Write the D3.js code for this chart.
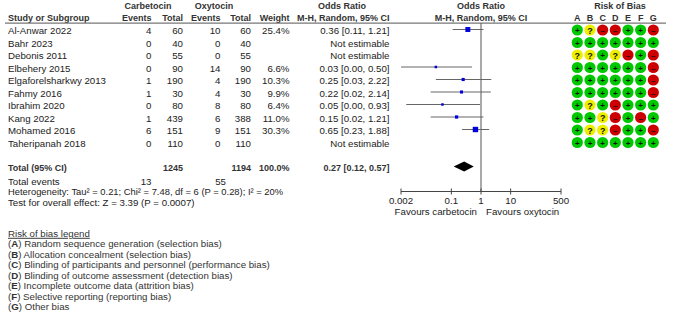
<!DOCTYPE html>
<html lang="en">
<head>
<meta charset="UTF-8">
<title>Forest plot: carbetocin vs oxytocin</title>
<script src="https://cdn.jsdelivr.net/npm/d3@7"></script>
<style>
  body { margin: 0; background: #fff; }
  text { font-family: "Liberation Sans", Arial, sans-serif; font-size: 9.7px; fill: #222; }
  .hd { font-weight: bold; fill: #333; font-size: 9px; }
</style>
</head>
<body>
<script>
const studies = ["Al-Anwar 2022", "Bahr 2023", "Debonis 2011", "Elbehery 2015", "Elgaforelsharkwy 2013",
  "Fahmy 2016", "Ibrahim 2020", "Kang 2022", "Mohamed 2016", "Taheripanah 2018"];
const carbEvents = [4, 0, 0, 0, 1, 1, 0, 1, 6, 0];
const carbTotal = [60, 40, 55, 90, 190, 30, 80, 439, 151, 110];
const oxyEvents = [10, 0, 0, 14, 4, 4, 8, 6, 9, 0];
const oxyTotal = [60, 40, 55, 90, 190, 30, 80, 388, 151, 110];
const weights = [25.4, null, null, 6.6, 10.3, 9.9, 6.4, 11.0, 30.3, null];
const orVals = [0.36, null, null, 0.03, 0.25, 0.22, 0.05, 0.15, 0.65, null];
const ciLow = [0.11, null, null, 0.0018, 0.03, 0.02, 0.003, 0.02, 0.23, null];
const ciHigh = [1.21, null, null, 0.50, 2.22, 2.14, 0.93, 1.21, 1.88, null];
const robRows = ["+?--++-", "+++++++", "??+?-+-", "++++++-", "++++++-",
  "++++++-", "+?+-+++", "++?-+-+", "+??-++-", "+++++++"];
const robDomains = ["A", "B", "C", "D", "E", "F", "G"];
const total = {carbTotal: 1245, oxyTotal: 1194, or: 0.27, lo: 0.12, hi: 0.57, carbEvents: 13, oxyEvents: 55};
const tickVals = [0.002, 0.1, 1, 10, 500];
const tickLabels = ["0.002", "0.1", "1", "10", "500"];
const legendItems = [
  ["A", "Random sequence generation (selection bias)"],
  ["B", "Allocation concealment (selection bias)"],
  ["C", "Blinding of participants and personnel (performance bias)"],
  ["D", "Blinding of outcome assessment (detection bias)"],
  ["E", "Incomplete outcome data (attrition bias)"],
  ["F", "Selective reporting (reporting bias)"],
  ["G", "Other bias"]
];

const width = 677, height = 326;
const svg = d3.select("body").append("svg").attr("width", width).attr("height", height);

const y = d3.scaleLinear().domain([0, 9]).range([30.5, 143]);
const x = d3.scaleLog().domain([0.002, 500]).range([401, 561]);
const sq = d3.scaleSqrt().domain([0, 30.3]).range([0, 5.4]);
const robX = d3.scalePoint().domain(robDomains).range([577.3, 653.3]);
const fmt = d3.format(".2f");

// header
const hdr = svg.append("g");
function ht(tx, ty, s, anchor) {
  hdr.append("text").attr("class", "hd").attr("x", tx).attr("y", ty)
    .attr("text-anchor", anchor || "middle").text(s);
}
ht(148, 8.5, "Carbetocin");
ht(214, 8.5, "Oxytocin");
ht(342, 8.5, "Odds Ratio");
ht(481, 8.5, "Odds Ratio");
ht(620, 8.5, "Risk of Bias");
ht(8, 20.5, "Study or Subgroup", "start");
ht(151.5, 20.5, "Events", "end");
ht(183, 20.5, "Total", "end");
ht(220.5, 20.5, "Events", "end");
ht(251, 20.5, "Total", "end");
ht(289.5, 20.5, "Weight", "end");
ht(389.5, 20.5, "M-H, Random, 95% CI", "end");
ht(481, 20.5, "M-H, Random, 95% CI");
robDomains.forEach(d => ht(robX(d), 20.5, d));

svg.append("line").attr("x1", 5).attr("x2", 666).attr("y1", 23.2).attr("y2", 23.2)
  .attr("stroke", "#777").attr("stroke-width", 1.2);

// study rows
const rows = svg.append("g").selectAll("g").data(studies).join("g")
  .attr("transform", (d, i) => `translate(0,${y(i)})`);

function cell(sel, tx, f, anchor) {
  sel.append("text").attr("x", tx).attr("y", 3.5).attr("text-anchor", anchor || "end").text(f);
}
cell(rows, 8, d => d, "start");
cell(rows, 151.5, (d, i) => carbEvents[i]);
cell(rows, 183, (d, i) => carbTotal[i]);
cell(rows, 220.5, (d, i) => oxyEvents[i]);
cell(rows, 251, (d, i) => oxyTotal[i]);
cell(rows, 289.5, (d, i) => weights[i] == null ? "" : weights[i].toFixed(1) + "%");
cell(rows, 389.5, (d, i) => orVals[i] == null ? "Not estimable"
  : `${fmt(orVals[i])} [${fmt(ciLow[i])}, ${fmt(ciHigh[i])}]`);

// null line
svg.append("line").attr("x1", x(1)).attr("x2", x(1)).attr("y1", 23).attr("y2", 192)
  .attr("stroke", "#555").attr("stroke-width", 1);

// CI lines and squares
const est = studies.map((d, i) => i).filter(i => orVals[i] != null);
const clampX = v => x(Math.max(v, 0.002));
svg.append("g").selectAll("line").data(est).join("line")
  .attr("x1", i => clampX(ciLow[i])).attr("x2", i => x(ciHigh[i]))
  .attr("y1", i => y(i) - 1).attr("y2", i => y(i) - 1)
  .attr("stroke", "#666").attr("stroke-width", 1);
svg.append("g").selectAll("rect").data(est).join("rect")
  .attr("x", i => x(orVals[i]) - sq(weights[i]) / 2)
  .attr("y", i => y(i) - 1 - sq(weights[i]) / 2)
  .attr("width", i => sq(weights[i])).attr("height", i => sq(weights[i]))
  .attr("fill", "#0000dd");

// total row
const ty = 167;
svg.append("text").attr("class", "hd").attr("x", 8).attr("y", ty + 3.5).text("Total (95% CI)");
[[183, total.carbTotal], [251, total.oxyTotal], [289.5, "100.0%"],
 [389.5, `${fmt(total.or)} [${fmt(total.lo)}, ${fmt(total.hi)}]`]].forEach(([tx, s]) => {
  svg.append("text").attr("class", "hd").attr("x", tx).attr("y", ty + 3.5)
    .attr("text-anchor", "end").text(s);
});
svg.append("path")
  .attr("d", `M${x(total.lo)},${ty - 0.5}L${x(total.or)},${ty - 5.5}L${x(total.hi)},${ty - 0.5}L${x(total.or)},${ty + 4.5}Z`)
  .attr("fill", "#000");

svg.append("text").attr("x", 8).attr("y", 185).text("Total events");
svg.append("text").attr("x", 151.5).attr("y", 185).attr("text-anchor", "end").text(total.carbEvents);
svg.append("text").attr("x", 226).attr("y", 185).attr("text-anchor", "end").text(total.oxyEvents);
svg.append("text").attr("x", 8).attr("y", 195.3).style("font-size", "9.4px")
  .text("Heterogeneity: Tau² = 0.21; Chi² = 7.48, df = 6 (P = 0.28); I² = 20%");
svg.append("text").attr("x", 8).attr("y", 205.6).text("Test for overall effect: Z = 3.39 (P = 0.0007)");

// axis
const ax = svg.append("g").attr("transform", "translate(0,191.5)");
ax.append("line").attr("x1", x(0.002)).attr("x2", x(500)).attr("stroke", "#444");
ax.selectAll("line.tk").data(tickVals).join("line").attr("class", "tk")
  .attr("x1", d => x(d)).attr("x2", d => x(d)).attr("y1", -3).attr("y2", 3).attr("stroke", "#444");
ax.selectAll("text").data(tickVals).join("text")
  .attr("x", d => x(d)).attr("y", 12).attr("text-anchor", "middle").text((d, i) => tickLabels[i]);
svg.append("text").attr("x", x(1) - 4).attr("y", 214.5).attr("text-anchor", "end").text("Favours carbetocin");
svg.append("text").attr("x", x(1) + 5).attr("y", 214.5).text("Favours oxytocin");

// risk of bias dots
const robColor = {"+": "#00c800", "?": "#eeee00", "-": "#cc0000"};
const robCells = [];
robRows.forEach((r, i) => r.split("").forEach((c, j) => robCells.push({i, d: robDomains[j], c})));
const rc = svg.append("g").selectAll("g").data(robCells).join("g")
  .attr("transform", d => `translate(${robX(d.d)},${y(d.i) - 0.5})`);
rc.append("circle").attr("r", 5.6).attr("fill", d => robColor[d.c]);
rc.append("text").attr("y", d => d.c === "?" ? 3.5 : 3)
  .attr("text-anchor", "middle")
  .style("font-weight", "bold").style("font-size", d => d.c === "?" ? "9px" : "8px")
  .style("fill", "#111")
  .text(d => d.c === "-" ? "–" : d.c);

// legend
const lg = svg.append("g");
lg.append("text").attr("x", 8).attr("y", 236.8).style("text-decoration", "underline").style("fill", "#333")
  .text("Risk of bias legend");
lg.selectAll("text.it").data(legendItems).join("text").attr("class", "it")
  .attr("x", 8).attr("y", (d, i) => 247.2 + i * 10.48)
  .style("fill", "#333")
  .call(t => {
    t.append("tspan").text("(");
    t.append("tspan").style("font-weight", "bold").text(d => d[0]);
    t.append("tspan").text(d => ") " + d[1]);
  });
</script>
</body>
</html>
